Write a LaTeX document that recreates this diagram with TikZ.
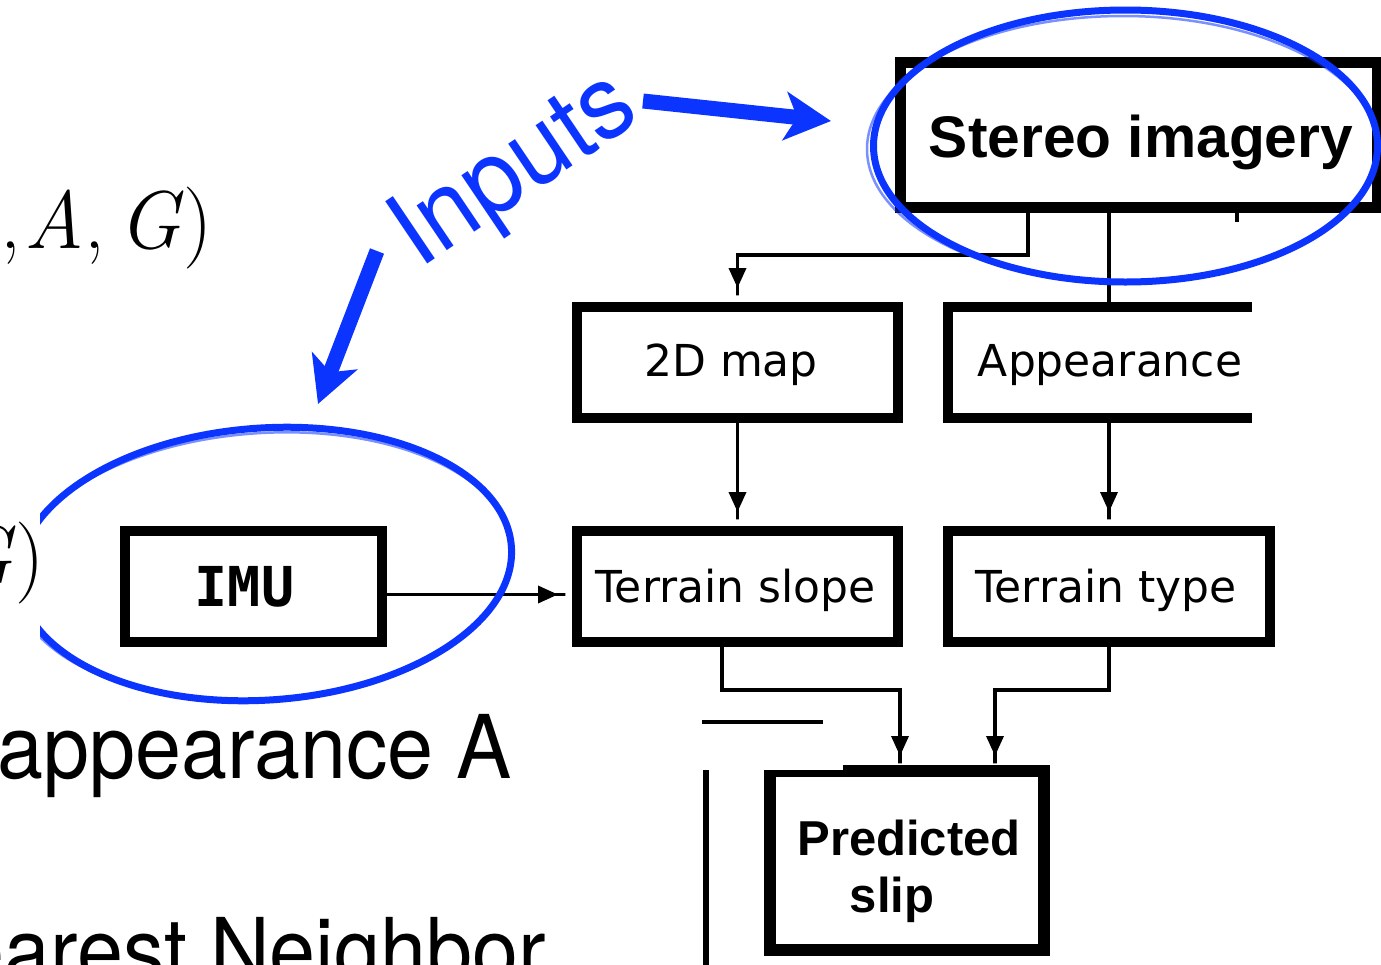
\documentclass[tikz,border=0pt]{standalone}
\usepackage{fontspec}
\usetikzlibrary{arrows.meta}

\newfontfamily\boxfont{DejaVu Sans}
\newfontfamily\headfont{Liberation Sans}
\newfontfamily\codefont{DejaVu Sans Mono}
\newfontfamily\slidefont{TeX Gyre Heros}[FakeStretch=0.94]
\newfontfamily\notefont{TeX Gyre Heros}[FakeStretch=0.96]
\definecolor{inkblue}{RGB}{12,52,255}

\tikzset{
  box/.style={draw=black, line width=10pt, rectangle, inner sep=0pt},
  lbl/.style={inner sep=0pt, anchor=base, font=\boxfont\fontsize{44}{50}\selectfont},
  hlbl/.style={inner sep=0pt, anchor=base, font=\headfont\bfseries\fontsize{58.7}{64}\selectfont},
  plbl/.style={inner sep=0pt, anchor=base, font=\headfont\bfseries\fontsize{49}{56}\selectfont},
  ilbl/.style={inner sep=0pt, anchor=base, font=\codefont\bfseries\fontsize{55}{60}\selectfont},
  conn/.style={draw=black, line width=3.5pt},
  tip/.style={conn, shorten >=5pt,
    -{Triangle[length=20pt,width=17pt] Rectangle[length=9pt,width=3.5pt]}},
  pen/.style={draw=inkblue, line width=7pt},
  sketch/.style={draw=inkblue, line width=2.5pt, opacity=0.55},
  bluearrow/.style={draw=inkblue, line width=15pt,
    -{Stealth[length=46pt,width=48pt,inset=12pt]}},
  mathtxt/.style={inner sep=0pt, anchor=base east, font=\fontsize{82}{90}\selectfont},
  slide/.style={inner sep=0pt, anchor=base east, font=\slidefont\fontsize{88}{96}\selectfont},
}

\begin{document}
\begin{tikzpicture}[x=1pt, y=-1pt]
\useasboundingbox (0,0) rectangle (1381,964);

% --- flow chart boxes ---
\node[box, line width=11pt, minimum width=477pt, minimum height=145pt] (stereo) at (1138.5,134.5) {};
\node[box, minimum width=321pt, minimum height=111pt] (map2d) at (737.5,362.5) {};
\node[box, minimum width=322pt, minimum height=111pt] (app) at (1109,362.5) {};
\node[box, minimum width=321pt, minimum height=111pt] (slope) at (737.5,586.5) {};
\node[box, minimum width=322pt, minimum height=111pt] (ttype) at (1109,586.5) {};
\node[box, minimum width=257pt, minimum height=111pt] (imu) at (253.5,586.5) {};
\node[box, line width=12pt, minimum width=274pt, minimum height=179pt] (pred) at (907,860.5) {};

% --- labels ---
\node[hlbl] (tstereo) at (1141,157) {Stereo imagery};
\node[lbl] (t2d) at (731,376) {2D map};
\node[lbl] (tapp) at (1110,376) {Appearance};
\node[lbl] (tslope) at (735.5,602) {Terrain slope};
\node[lbl] (ttypel) at (1106,602) {Terrain type};
\node[ilbl] (timu) at (244.5,606) {IMU};
\node[plbl] (tpred1) at (909,855) {Predicted};
\node[plbl] (tpred2) at (892,912) {slip};

% --- connectors ---
\coordinate (split) at (1028,255);
\coordinate (stub) at (1237,240);
\coordinate (jl) at (722,690);
\coordinate (inl) at (900,771);
\coordinate (inr) at (995,771);

\draw[tip] (split |- stereo.south) -- (split) -| (map2d.north);
\draw[conn] (stereo.south -| app.north) -- (app.north);
\draw[conn] (stub |- stereo.south) -- (stub);
\draw[tip] (map2d.south) -- (slope.north);
\draw[tip] (app.south) -- (ttype.north);
\draw[tip] ([yshift=-8pt]imu.east) -- ([yshift=-8pt]slope.west);
\draw[tip, shorten >=6pt] (jl |- slope.south) -- (jl) -| (inl);
\draw[tip, shorten >=6pt] (ttype.south) -- (ttype.south |- jl) -| (inr);

% --- cropped edges of the chart ---
\fill[white] (1140,222) rectangle (1395,302);
\fill[white] (1252,222) rectangle (1395,430);
\fill[white] (755,740) rectangle (843,770);
\draw[line width=4pt] (702,722) -- (823,722);
\draw[line width=6pt] (706,770) -- (706,970);

% --- hand-drawn highlights ---
\draw[pen] (1125.5,146) ellipse [x radius=252pt, y radius=136pt];
\draw[sketch] (1123,149) ellipse [x radius=256pt, y radius=133pt];
\draw[pen, rotate around={4:(265,564)}] (265,564) ellipse [x radius=247pt, y radius=136pt];
\draw[sketch, rotate around={4:(265,564)}] (263,566) ellipse [x radius=250pt, y radius=133pt];

% --- slide text ---
\fill[white] (0,505) rectangle (40,645);
\node[mathtxt] (mtop) at (213,248) {,\kern0.04em\textit{A},\,\textit{G})};
\node[mathtxt] (mmid) at (45,583) {\textit{G})};
\node[slide] (appA) at (512,778) {appearance A};
\node[slide] (nn) at (546,981) {Nearest Neighbor};

% --- Inputs annotation ---
\node[inner sep=0pt, anchor=base west, rotate=34, text=inkblue,
      font=\notefont\fontsize{103}{110}\selectfont] (inputs) at (419,270) {Inputs};
\coordinate (a1s) at (643,101);
\coordinate (a1e) at (831,121);
\coordinate (a2s) at (377,251);
\coordinate (a2e) at (318,404);
\draw[bluearrow] (a1s) -- (a1e);
\draw[bluearrow] (a2s) -- (a2e);
\end{tikzpicture}
\end{document}
